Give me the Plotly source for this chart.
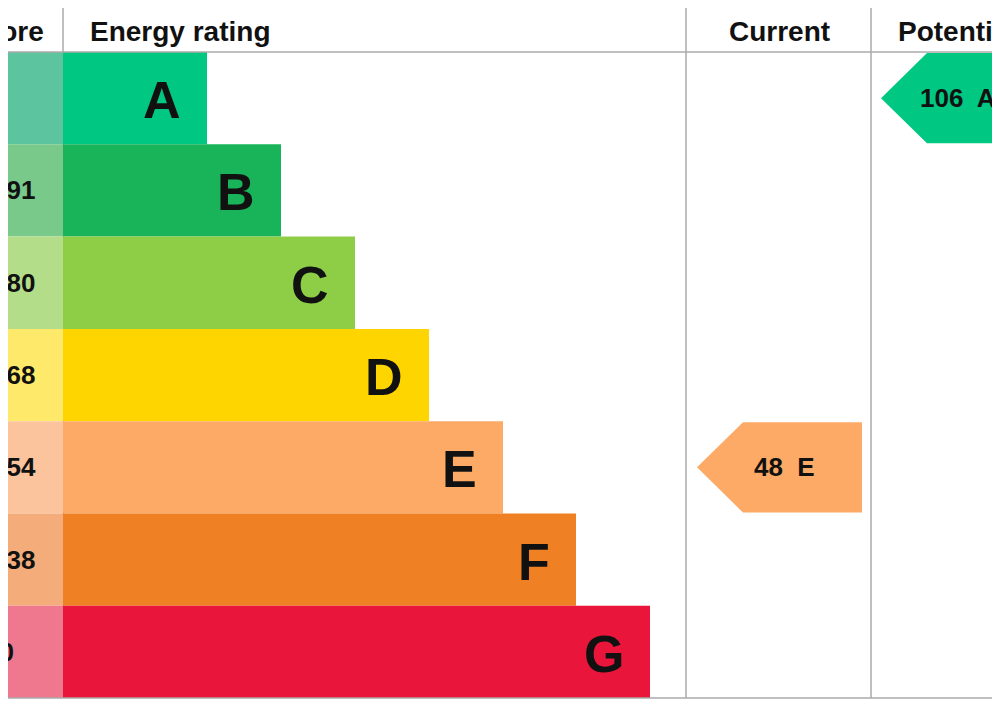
import plotly.graph_objects as go

bands = ["A", "B", "C", "D", "E", "F", "G"]
score_labels = ["92+", "81-91", "69-80", "55-68", "39-54", "21-38", "1-20"]
band_min = [92, 81, 69, 55, 39, 21, 1]
bar_right = [207, 281, 355, 429, 503, 576, 650]
colors = ["#00c781", "#19b459", "#8dce46", "#ffd500", "#fcaa65", "#ef8023", "#e9153b"]
light = ["#5cc5a0", "#78c98a", "#b4dd8a", "#ffe96a", "#fcc49c", "#f4ad7a", "#f0788e"]
current_score = 48
potential_score = 106

top, head, row_h = 6, 52, 92.3
centers = [head + row_h * (i + 0.5) for i in range(7)]
OFF = 8  # page margin compensation

def band_of(v):
    for i, m in enumerate(band_min):
        if v >= m:
            return i
    return 6

fig = go.Figure()
fig.add_bar(orientation="h", y=centers, x=[63 + OFF] * 7, base=-OFF, width=row_h,
            marker=dict(color=light, line=dict(width=0)), hoverinfo="skip")
fig.add_bar(orientation="h", y=centers, x=[r - 63 for r in bar_right], base=63, width=row_h,
            marker=dict(color=colors, line=dict(width=0)), hoverinfo="skip")

FONT = "Liberation Sans"
ann = []
for i, b in enumerate(bands):
    ann.append(dict(x=bar_right[i] - 24, y=centers[i] + 2, text=f"<b>{b}</b>", xanchor="right",
                    showarrow=False, font=dict(family=FONT, size=52, color="#111")))
    xr = 10 if i == 0 else (16 if i == 6 else 38)
    ann.append(dict(x=xr, y=centers[i], text=f"<b>{score_labels[i]}</b>", xanchor="right",
                    showarrow=False, font=dict(family=FONT, size=26, color="#111")))

def arrow(x_tip, x_end, v, align_x, col):
    i = band_of(v)
    y0, y1 = centers[i] - row_h / 2 + 1, centers[i] + row_h / 2 - 1
    d = 46
    fig.add_scatter(x=[x_tip, x_tip + d, x_end, x_end, x_tip + d, x_tip],
                    y=[centers[i], y0, y0, y1, y1, centers[i]], fill="toself",
                    fillcolor=col, line=dict(width=0), mode="lines", hoverinfo="skip")
    ann.append(dict(x=align_x, y=centers[i], text=f"<b>{v}  {bands[i]}</b>", xanchor="left",
                    showarrow=False, font=dict(family=FONT, size=26, color="#111")))

arrow(697, 862, current_score, 752, colors[band_of(current_score)])
arrow(881, 1060, potential_score, 918, colors[band_of(potential_score)])

hy = (top + head) / 2 + 2
ann += [
    dict(x=46, y=hy, text="<b>Score</b>", xanchor="right", showarrow=False, font=dict(family=FONT, size=28, color="#111")),
    dict(x=88, y=hy, text="<b>Energy rating</b>", xanchor="left", showarrow=False, font=dict(family=FONT, size=28, color="#111")),
    dict(x=779, y=hy, text="<b>Current</b>", xanchor="center", showarrow=False, font=dict(family=FONT, size=28, color="#111")),
    dict(x=896, y=hy, text="<b>Potential</b>", xanchor="left", showarrow=False, font=dict(family=FONT, size=28, color="#111")),
]

shapes = []
bottom = head + row_h * 7
lc = dict(color="#aaaaaa", width=1.5)
for yv in [top, head, bottom]:
    shapes.append(dict(type="line", x0=-OFF, x1=1100, y0=yv, y1=yv, line=lc, layer="above"))
for xv in [63, 686, 871]:
    shapes.append(dict(type="line", x0=xv, x1=xv, y0=top, y1=bottom, line=lc, layer="below"))

fig.update_layout(
    width=1000, height=707, margin=dict(l=0, r=0, t=0, b=0),
    paper_bgcolor="white", plot_bgcolor="white", showlegend=False, barmode="overlay",
    xaxis=dict(range=[OFF, 1000 + OFF], visible=False, fixedrange=True),
    yaxis=dict(range=[707 + OFF, OFF], visible=False, fixedrange=True),
    annotations=ann, shapes=shapes,
)
fig.write_html("out.html")
